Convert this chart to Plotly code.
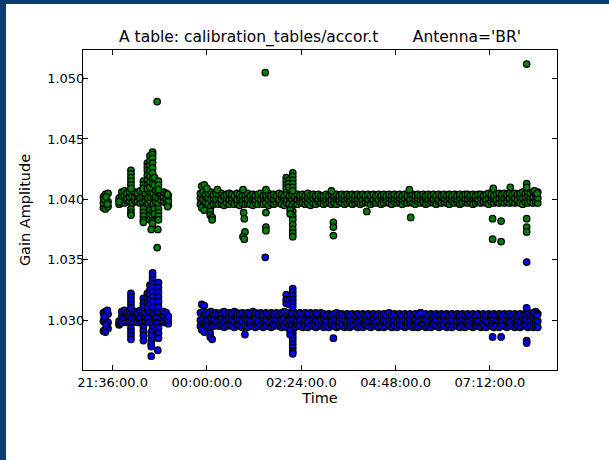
import plotly.graph_objects as go
import pandas as pd

# ---------------- data (minutes relative to 00:00 of the second day) ----------------
band_t = [
    -158, -155, -151, -134, -130, -126, -122, -118, -114, -110,
    -106, -102, -98, -94, -90, -86, -82, -78, -74, -70,
    -66, -62, -59, -10, -6, -2, 2, 6, 10, 14,
    18, 22, 26, 30, 34, 38, 42, 46, 50, 54,
    58, 62, 66, 70, 74, 78, 82, 86, 90, 94,
    98, 102, 106, 110, 114, 118, 122, 126, 130, 134,
    138, 142, 146, 150, 154, 158, 162, 166, 170, 174,
    178, 182, 186, 190, 194, 198, 202, 206, 210, 214,
    218, 222, 226, 230, 234, 238, 242, 246, 250, 254,
    258, 262, 266, 270, 274, 278, 282, 286, 290, 294,
    298, 302, 306, 310, 314, 318, 322, 326, 330, 334,
    338, 342, 346, 350, 354, 358, 362, 366, 370, 374,
    378, 382, 386, 390, 394, 398, 402, 406, 410, 414,
    418, 422, 426, 430, 434, 438, 442, 446, 450, 454,
    458, 462, 466, 470, 474, 478, 482, 486, 490, 494,
    498, 502, 505,
]

green_a = [
    1.0393, 1.0392, 1.0394, 1.0396, 1.0398, 1.0397, 1.0399, 1.0398, 1.0397, 1.0399,
    1.0398, 1.0397, 1.0398, 1.0399, 1.0397, 1.0398, 1.0396, 1.0398, 1.0397, 1.0399,
    1.0398, 1.0397, 1.0395, 1.0396, 1.0395, 1.0397, 1.0396, 1.0394, 1.0396, 1.0397,
    1.0396, 1.0397, 1.0395, 1.0397, 1.0396, 1.0398, 1.0396, 1.0397, 1.0395, 1.0397,
    1.0396, 1.0397, 1.0396, 1.0395, 1.0397, 1.0396, 1.0398, 1.0396, 1.0397, 1.0395,
    1.0397, 1.0396, 1.0397, 1.0398, 1.0396, 1.0395, 1.0397, 1.0396, 1.0395, 1.0397,
    1.0396, 1.0398, 1.0397, 1.0396, 1.0397, 1.0395, 1.0397, 1.0396, 1.0398, 1.0397,
    1.0396, 1.0397, 1.0398, 1.0396, 1.0397, 1.0396, 1.0398, 1.0397, 1.0396, 1.0397,
    1.0398, 1.0396, 1.0397, 1.0398, 1.0396, 1.0397, 1.0398, 1.0397, 1.0396, 1.0398,
    1.0397, 1.0398, 1.0396, 1.0397, 1.0398, 1.0397, 1.0396, 1.0398, 1.0397, 1.0398,
    1.0396, 1.0398, 1.0397, 1.0398, 1.0397, 1.0396, 1.0398, 1.0397, 1.0398, 1.0396,
    1.0397, 1.0398, 1.0397, 1.0396, 1.0398, 1.0397, 1.0398, 1.0397, 1.0396, 1.0398,
    1.0397, 1.0398, 1.0396, 1.0397, 1.0398, 1.0397, 1.0398, 1.0396, 1.0397, 1.0398,
    1.0397, 1.0398, 1.0397, 1.0396, 1.0398, 1.0397, 1.0398, 1.0397, 1.0398, 1.0397,
    1.0398, 1.0397, 1.0398, 1.0397, 1.0398, 1.0397, 1.0396, 1.0398, 1.0397, 1.0398,
    1.0397, 1.0398, 1.0397,
]
green_b = [
    1.0397, 1.0399, 1.0398, 1.0399, 1.0402, 1.0403, 1.0401, 1.0402, 1.0403, 1.0402,
    1.0403, 1.0401, 1.0402, 1.0403, 1.0401, 1.0402, 1.0403, 1.0402, 1.0401, 1.0403,
    1.0402, 1.0401, 1.0399, 1.0401, 1.0400, 1.0402, 1.0401, 1.0400, 1.0401, 1.0400,
    1.0401, 1.0400, 1.0402, 1.0401, 1.0400, 1.0401, 1.0402, 1.0400, 1.0401, 1.0400,
    1.0401, 1.0400, 1.0401, 1.0402, 1.0400, 1.0401, 1.0400, 1.0401, 1.0402, 1.0400,
    1.0401, 1.0400, 1.0401, 1.0400, 1.0402, 1.0401, 1.0400, 1.0401, 1.0400, 1.0401,
    1.0400, 1.0401, 1.0402, 1.0400, 1.0401, 1.0400, 1.0401, 1.0402, 1.0400, 1.0401,
    1.0401, 1.0400, 1.0401, 1.0400, 1.0401, 1.0402, 1.0400, 1.0401, 1.0400, 1.0401,
    1.0400, 1.0401, 1.0400, 1.0401, 1.0402, 1.0400, 1.0401, 1.0400, 1.0401, 1.0400,
    1.0401, 1.0400, 1.0401, 1.0402, 1.0400, 1.0401, 1.0400, 1.0401, 1.0400, 1.0401,
    1.0400, 1.0401, 1.0402, 1.0400, 1.0401, 1.0400, 1.0401, 1.0400, 1.0402, 1.0401,
    1.0400, 1.0401, 1.0400, 1.0401, 1.0400, 1.0402, 1.0401, 1.0400, 1.0401, 1.0400,
    1.0401, 1.0400, 1.0401, 1.0402, 1.0401, 1.0400, 1.0401, 1.0402, 1.0401, 1.0400,
    1.0401, 1.0402, 1.0400, 1.0401, 1.0402, 1.0401, 1.0400, 1.0401, 1.0402, 1.0401,
    1.0402, 1.0401, 1.0402, 1.0401, 1.0400, 1.0402, 1.0401, 1.0402, 1.0403, 1.0402,
    1.0402, 1.0403, 1.0401,
]
green_c = [
    1.0402, 1.0404, 1.0405, 1.0401, 1.0406, 1.0407, 1.0405, 1.0406, 1.0407, 1.0406,
    1.0405, 1.0407, 1.0406, 1.0405, 1.0407, 1.0406, 1.0405, 1.0407, 1.0406, 1.0405,
    1.0406, 1.0405, 1.0403, 1.0405, 1.0406, 1.0404, 1.0405, 1.0406, 1.0404, 1.0405,
    1.0404, 1.0405, 1.0403, 1.0404, 1.0405, 1.0404, 1.0403, 1.0405, 1.0404, 1.0403,
    1.0404, 1.0405, 1.0403, 1.0404, 1.0403, 1.0404, 1.0405, 1.0403, 1.0404, 1.0405,
    1.0403, 1.0404, 1.0403, 1.0405, 1.0404, 1.0403, 1.0404, 1.0403, 1.0404, 1.0403,
    1.0404, 1.0403, 1.0404, 1.0403, 1.0405, 1.0403, 1.0404, 1.0403, 1.0404, 1.0403,
    1.0403, 1.0404, 1.0403, 1.0404, 1.0403, 1.0404, 1.0403, 1.0404, 1.0403, 1.0404,
    1.0403, 1.0404, 1.0403, 1.0404, 1.0403, 1.0404, 1.0403, 1.0404, 1.0403, 1.0404,
    1.0403, 1.0404, 1.0403, 1.0404, 1.0403, 1.0404, 1.0403, 1.0404, 1.0403, 1.0404,
    1.0403, 1.0404, 1.0403, 1.0405, 1.0404, 1.0403, 1.0404, 1.0403, 1.0404, 1.0403,
    1.0404, 1.0403, 1.0404, 1.0403, 1.0404, 1.0403, 1.0404, 1.0403, 1.0404, 1.0403,
    1.0404, 1.0403, 1.0404, 1.0403, 1.0404, 1.0404, 1.0403, 1.0404, 1.0403, 1.0404,
    1.0404, 1.0403, 1.0404, 1.0405, 1.0404, 1.0403, 1.0404, 1.0405, 1.0404, 1.0405,
    1.0404, 1.0405, 1.0404, 1.0405, 1.0404, 1.0405, 1.0406, 1.0405, 1.0406, 1.0405,
    1.0406, 1.0405, 1.0406,
]

blue_a = [
    1.0291, 1.0292, 1.0293, 1.0296, 1.0298, 1.0299, 1.0298, 1.0299, 1.0298, 1.0299,
    1.0298, 1.0299, 1.0298, 1.0299, 1.0298, 1.0299, 1.0297, 1.0299, 1.0298, 1.0299,
    1.0298, 1.0299, 1.0297, 1.0295, 1.0294, 1.0296, 1.0295, 1.0294, 1.0295, 1.0296,
    1.0295, 1.0296, 1.0294, 1.0295, 1.0296, 1.0295, 1.0294, 1.0296, 1.0295, 1.0294,
    1.0295, 1.0294, 1.0296, 1.0295, 1.0294, 1.0295, 1.0296, 1.0294, 1.0295, 1.0296,
    1.0294, 1.0295, 1.0296, 1.0295, 1.0294, 1.0295, 1.0294, 1.0296, 1.0295, 1.0294,
    1.0295, 1.0296, 1.0294, 1.0295, 1.0294, 1.0296, 1.0295, 1.0294, 1.0295, 1.0296,
    1.0294, 1.0295, 1.0294, 1.0296, 1.0295, 1.0294, 1.0295, 1.0296, 1.0294, 1.0295,
    1.0294, 1.0295, 1.0296, 1.0294, 1.0295, 1.0294, 1.0296, 1.0295, 1.0294, 1.0295,
    1.0296, 1.0294, 1.0295, 1.0294, 1.0295, 1.0296, 1.0294, 1.0295, 1.0294, 1.0296,
    1.0295, 1.0294, 1.0295, 1.0296, 1.0294, 1.0295, 1.0294, 1.0295, 1.0296, 1.0294,
    1.0295, 1.0294, 1.0296, 1.0295, 1.0294, 1.0295, 1.0296, 1.0294, 1.0295, 1.0294,
    1.0296, 1.0295, 1.0294, 1.0295, 1.0294, 1.0296, 1.0295, 1.0294, 1.0295, 1.0296,
    1.0294, 1.0295, 1.0294, 1.0296, 1.0295, 1.0294, 1.0295, 1.0294, 1.0296, 1.0295,
    1.0294, 1.0295, 1.0296, 1.0294, 1.0295, 1.0294, 1.0295, 1.0296, 1.0294, 1.0295,
    1.0294, 1.0295, 1.0294,
]
blue_b = [
    1.0299, 1.0300, 1.0298, 1.0297, 1.0303, 1.0302, 1.0304, 1.0303, 1.0302, 1.0304,
    1.0303, 1.0302, 1.0304, 1.0303, 1.0302, 1.0303, 1.0304, 1.0302, 1.0303, 1.0302,
    1.0303, 1.0302, 1.0300, 1.0300, 1.0301, 1.0299, 1.0300, 1.0301, 1.0300, 1.0299,
    1.0300, 1.0301, 1.0299, 1.0300, 1.0301, 1.0300, 1.0299, 1.0301, 1.0300, 1.0299,
    1.0301, 1.0300, 1.0299, 1.0300, 1.0301, 1.0299, 1.0300, 1.0301, 1.0300, 1.0299,
    1.0300, 1.0301, 1.0300, 1.0299, 1.0300, 1.0301, 1.0299, 1.0300, 1.0301, 1.0300,
    1.0299, 1.0300, 1.0301, 1.0300, 1.0299, 1.0300, 1.0301, 1.0300, 1.0299, 1.0300,
    1.0301, 1.0300, 1.0299, 1.0300, 1.0301, 1.0300, 1.0299, 1.0301, 1.0300, 1.0299,
    1.0300, 1.0301, 1.0300, 1.0299, 1.0300, 1.0301, 1.0300, 1.0299, 1.0300, 1.0301,
    1.0299, 1.0300, 1.0301, 1.0300, 1.0299, 1.0300, 1.0301, 1.0300, 1.0299, 1.0300,
    1.0301, 1.0300, 1.0299, 1.0300, 1.0301, 1.0300, 1.0299, 1.0300, 1.0301, 1.0300,
    1.0299, 1.0300, 1.0301, 1.0300, 1.0299, 1.0300, 1.0301, 1.0299, 1.0300, 1.0301,
    1.0300, 1.0299, 1.0300, 1.0301, 1.0300, 1.0299, 1.0300, 1.0301, 1.0300, 1.0299,
    1.0300, 1.0301, 1.0300, 1.0299, 1.0300, 1.0301, 1.0300, 1.0299, 1.0300, 1.0301,
    1.0300, 1.0299, 1.0300, 1.0301, 1.0300, 1.0299, 1.0301, 1.0300, 1.0299, 1.0300,
    1.0301, 1.0300, 1.0299,
]
blue_c = [
    1.0306, 1.0307, 1.0305, 1.0299, 1.0307, 1.0308, 1.0306, 1.0307, 1.0308, 1.0307,
    1.0306, 1.0308, 1.0307, 1.0306, 1.0308, 1.0307, 1.0306, 1.0308, 1.0307, 1.0306,
    1.0307, 1.0306, 1.0303, 1.0306, 1.0307, 1.0305, 1.0306, 1.0307, 1.0305, 1.0306,
    1.0305, 1.0306, 1.0307, 1.0305, 1.0306, 1.0305, 1.0307, 1.0306, 1.0305, 1.0306,
    1.0305, 1.0306, 1.0305, 1.0307, 1.0306, 1.0305, 1.0306, 1.0305, 1.0306, 1.0305,
    1.0306, 1.0305, 1.0306, 1.0305, 1.0306, 1.0307, 1.0305, 1.0306, 1.0305, 1.0306,
    1.0305, 1.0306, 1.0305, 1.0306, 1.0305, 1.0306, 1.0305, 1.0306, 1.0305, 1.0306,
    1.0305, 1.0304, 1.0305, 1.0304, 1.0305, 1.0306, 1.0304, 1.0305, 1.0304, 1.0305,
    1.0304, 1.0305, 1.0304, 1.0305, 1.0304, 1.0305, 1.0304, 1.0305, 1.0304, 1.0305,
    1.0304, 1.0305, 1.0304, 1.0305, 1.0304, 1.0306, 1.0304, 1.0305, 1.0304, 1.0305,
    1.0304, 1.0305, 1.0304, 1.0305, 1.0304, 1.0305, 1.0304, 1.0306, 1.0304, 1.0305,
    1.0304, 1.0305, 1.0304, 1.0305, 1.0304, 1.0305, 1.0304, 1.0305, 1.0304, 1.0305,
    1.0304, 1.0305, 1.0304, 1.0305, 1.0304, 1.0305, 1.0304, 1.0305, 1.0304, 1.0305,
    1.0304, 1.0305, 1.0304, 1.0305, 1.0304, 1.0305, 1.0304, 1.0305, 1.0304, 1.0305,
    1.0304, 1.0305, 1.0304, 1.0305, 1.0304, 1.0305, 1.0304, 1.0305, 1.0306, 1.0305,
    1.0306, 1.0307, 1.0305,
]

# individual excursions / outliers: (minutes, gain)
green_extra = [
    (-157, 1.0400), (-154, 1.0402), (-152, 1.0396), (-134, 1.0398),
    (-116, 1.0424), (-116, 1.0421), (-116, 1.0418), (-116, 1.0415), (-116, 1.0412),
    (-116, 1.0409), (-116, 1.0392), (-116, 1.0389), (-116, 1.0387),
    (-97, 1.0415), (-97, 1.0412), (-97, 1.0409), (-97, 1.0392), (-97, 1.0389),
    (-97, 1.0386), (-97, 1.0383), (-97, 1.0381),
    (-91, 1.0430), (-91, 1.0427), (-91, 1.0424), (-91, 1.0420), (-91, 1.0416),
    (-91, 1.0412), (-91, 1.0409),
    (-87, 1.0436), (-87, 1.0432), (-87, 1.0428), (-87, 1.0424), (-87, 1.0419),
    (-87, 1.0414), (-87, 1.0410), (-87, 1.0391), (-87, 1.0387), (-87, 1.0383),
    (-83, 1.0439), (-83, 1.0437), (-83, 1.0434), (-83, 1.0430), (-83, 1.0426),
    (-83, 1.0422), (-83, 1.0417), (-83, 1.0413), (-83, 1.0390), (-83, 1.0386),
    (-83, 1.0382), (-83, 1.0380),
    (-85, 1.0375), (-80, 1.0418), (-80, 1.0412), (-80, 1.0392), (-80, 1.0388),
    (-75, 1.0375), (-76, 1.0360), (-76, 1.0481),
    (-74, 1.0415), (-74, 1.0412), (-74, 1.0408), (-74, 1.0392), (-74, 1.0389),
    (-74, 1.0386), (-74, 1.0383), (-60, 1.0394), (-60, 1.0404),
    (-8, 1.0411), (-8, 1.0393), (-4, 1.0412), (-4, 1.0391), (0, 1.0409),
    (5, 1.0390), (5, 1.0387), (8, 1.0385), (8, 1.0383),
    (16, 1.0408), (56, 1.0389), (57, 1.0384), (58, 1.0373), (55, 1.0369),
    (57, 1.0367), (55, 1.0408),
    (89, 1.0505), (90, 1.0389), (90, 1.0377), (90, 1.0374), (90, 1.0408),
    (121, 1.0418), (121, 1.0415), (121, 1.0412), (121, 1.0409),
    (125, 1.0416), (125, 1.0413), (125, 1.0410),
    (131, 1.0422), (131, 1.0419), (131, 1.0416), (131, 1.0413), (131, 1.0410), (131, 1.0407),
    (131, 1.0390), (131, 1.0386), (131, 1.0383), (131, 1.0379), (131, 1.0375),
    (131, 1.0372), (131, 1.0369), (127, 1.0391), (127, 1.0388),
    (190, 1.0407), (193, 1.0381), (193, 1.0377), (193, 1.0370),
    (244, 1.0390), (309, 1.0408), (311, 1.0385),
    (436, 1.0384), (436, 1.0367), (437, 1.0409), (449, 1.0382), (449, 1.0365), (463, 1.0410),
    (488, 1.0413), (488, 1.0410), (488, 1.0384), (488, 1.0377), (488, 1.0373), (488, 1.0512),
    (500, 1.0407), (504, 1.0405),
]
blue_extra = [
    (-157, 1.0303), (-154, 1.0296), (-152, 1.0308), (-155, 1.0290),
    (-116, 1.0322), (-116, 1.0319), (-116, 1.0316), (-116, 1.0313), (-116, 1.0310),
    (-116, 1.0293), (-116, 1.0290), (-116, 1.0287), (-116, 1.0284),
    (-97, 1.0318), (-97, 1.0314), (-97, 1.0311), (-97, 1.0294), (-97, 1.0291),
    (-97, 1.0287), (-97, 1.0283),
    (-91, 1.0322), (-91, 1.0318), (-91, 1.0314), (-91, 1.0311),
    (-87, 1.0329), (-87, 1.0325), (-87, 1.0321), (-87, 1.0317), (-87, 1.0313),
    (-83, 1.0339), (-83, 1.0336), (-83, 1.0333), (-83, 1.0330), (-83, 1.0327),
    (-83, 1.0323), (-83, 1.0319), (-83, 1.0315), (-83, 1.0311), (-83, 1.0293),
    (-83, 1.0289), (-83, 1.0285),
    (-85, 1.0290), (-85, 1.0287), (-85, 1.0283), (-85, 1.0280), (-85, 1.0278), (-85, 1.0270),
    (-75, 1.0275),
    (-74, 1.0331), (-74, 1.0327), (-74, 1.0323), (-74, 1.0319), (-74, 1.0315),
    (-74, 1.0311), (-74, 1.0293), (-74, 1.0289), (-74, 1.0285),
    (-8, 1.0313), (-8, 1.0292), (-4, 1.0312), (-4, 1.0290), (5, 1.0289), (5, 1.0286), (8, 1.0284),
    (58, 1.0288), (89, 1.0352),
    (121, 1.0321), (121, 1.0317), (121, 1.0314), (125, 1.0316), (125, 1.0313),
    (131, 1.0326), (131, 1.0323), (131, 1.0320), (131, 1.0317), (131, 1.0314), (131, 1.0311),
    (131, 1.0292), (131, 1.0289), (131, 1.0286), (131, 1.0283), (131, 1.0280),
    (131, 1.0277), (131, 1.0274), (131, 1.0272), (127, 1.0291), (127, 1.0288),
    (193, 1.0285), (326, 1.0306), (436, 1.0286), (449, 1.0286),
    (488, 1.0308), (488, 1.0310), (488, 1.0283), (488, 1.0281), (488, 1.0348),
    (500, 1.0306), (504, 1.0304),
]

y_ticks = [1.030, 1.035, 1.040, 1.045, 1.050]
y_tick_labels = ["1.030", "1.035", "1.040", "1.045", "1.050"]
x_ticks_min = [-144, 0, 144, 288, 432]
x_tick_labels = ["21:36:00.0", "00:00:00.0", "02:24:00.0", "04:48:00.0", "07:12:00.0"]
x_range_min = [-189.2, 534.3]
y_range = [1.02586, 1.05237]

TITLE = "A table: calibration_tables/accor.t" + "\u00a0" * 7 + "Antenna='BR'"

# ---------------- helpers ----------------
BASE = pd.Timestamp("2000-01-02 00:00:00")


def to_time(m):
    return BASE + pd.to_timedelta(m, unit="min")


def series_points(lists, extra):
    xs, ys = [], []
    n = min(len(band_t), *[len(l) for l in lists])
    for i in range(n):
        for l in lists:
            xs.append(to_time(band_t[i]))
            ys.append(l[i])
    for t, v in extra:
        xs.append(to_time(t))
        ys.append(v)
    return xs, ys


gx, gy = series_points([green_a, green_b, green_c], green_extra)
bx, by = series_points([blue_a, blue_b, blue_c], blue_extra)

FONT = "DejaVu Sans"
fig = go.Figure()
fig.add_trace(go.Scatter(x=gx, y=gy, mode="markers",
                         marker=dict(size=6.5, color="#008000",
                                     line=dict(color="black", width=1.25))))
fig.add_trace(go.Scatter(x=bx, y=by, mode="markers",
                         marker=dict(size=6.5, color="#0000ff",
                                     line=dict(color="black", width=1.25))))

axis_common = dict(showline=True, linecolor="black", linewidth=1, mirror="ticks",
                   ticks="inside", ticklen=5, tickwidth=1, tickcolor="black",
                   showgrid=False, zeroline=False,
                   tickfont=dict(family=FONT, size=13, color="black"))

fig.update_xaxes(type="date", range=[to_time(x_range_min[0]), to_time(x_range_min[1])],
                 tickvals=[to_time(m) for m in x_ticks_min], ticktext=x_tick_labels,
                 title=dict(text="Time", font=dict(family=FONT, size=14.5, color="black"),
                            standoff=2),
                 ticklabelstandoff=0, **axis_common)
fig.update_yaxes(range=y_range, tickvals=y_ticks, ticktext=y_tick_labels,
                 title=dict(text="Gain Amplitude", font=dict(family=FONT, size=14.5, color="black"),
                            standoff=13),
                 ticklabelstandoff=-5, **axis_common)

BORDER = "#0b3e6f"
# plot area: x 83..557 px, y 50..370 px
def px_x(p):
    return (p - 83) / 474.0


def px_y(p):
    return (370 - p) / 320.0


fig.update_layout(
    width=609, height=460,
    margin=dict(l=83, r=52, t=50, b=90, autoexpand=False),
    paper_bgcolor="white", plot_bgcolor="white",
    showlegend=False,
    font=dict(family=FONT, color="black"),
    title=dict(text=TITLE, x=0.5, xref="paper", xanchor="center",
               y=1 - 37 / 460, yref="container", yanchor="middle",
               font=dict(family=FONT, size=15.5, color="black")),
    shapes=[
        dict(type="rect", xref="paper", yref="paper", layer="above",
             x0=px_x(-2), x1=px_x(6), y0=px_y(462), y1=px_y(-2),
             fillcolor=BORDER, line=dict(width=0)),
        dict(type="rect", xref="paper", yref="paper", layer="above",
             x0=px_x(-2), x1=px_x(611), y0=px_y(4), y1=px_y(-2),
             fillcolor=BORDER, line=dict(width=0)),
    ],
)

fig.write_html("out.html")
